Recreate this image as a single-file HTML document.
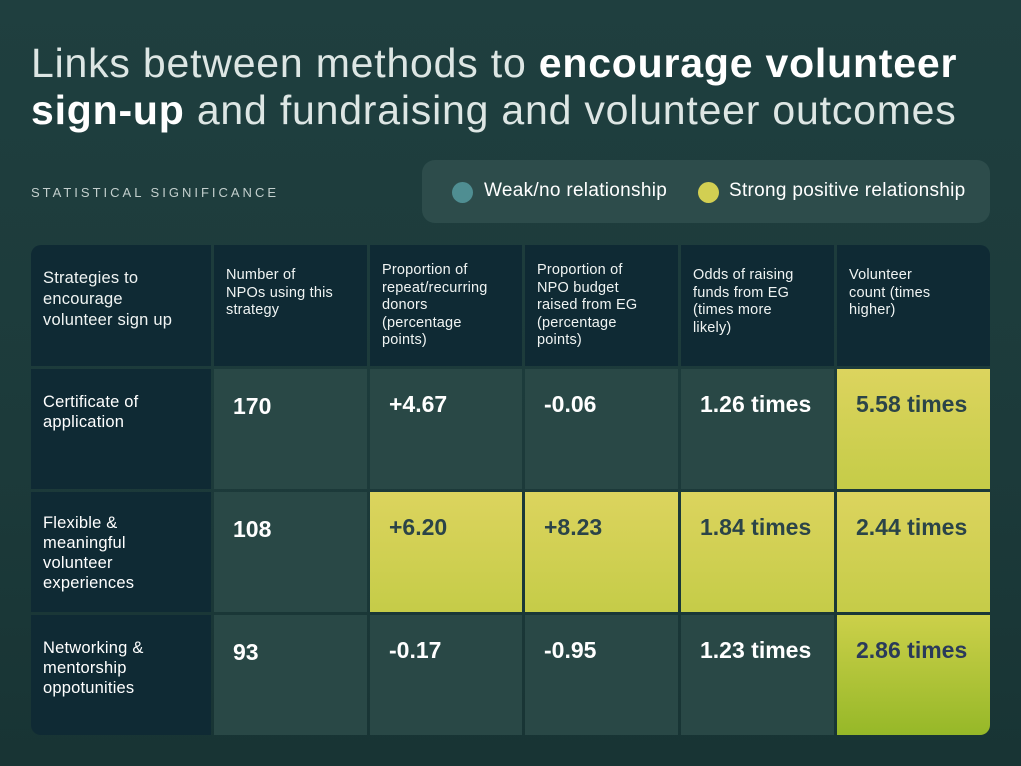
<!DOCTYPE html>
<html><head><style>
*{margin:0;padding:0;box-sizing:border-box}
body{width:1021px;height:766px;overflow:hidden;background:linear-gradient(180deg,#1f3f3f 0%,#1c3a3a 60%,#183434 100%);font-family:"Liberation Sans",sans-serif;color:#fff;position:relative}
.t{position:absolute;left:31px;font-size:41px;letter-spacing:0.8px;color:#dde6e4;font-weight:300;white-space:nowrap}
.t b{color:#fff;font-weight:700}
.ss{position:absolute;left:31px;top:185px;font-size:13px;letter-spacing:3px;color:#c3cfcd}
.leg{position:absolute;left:422px;top:160px;width:568px;height:63px;background:#2d4c4b;border-radius:13px}
.dot{position:absolute;top:22px;width:21px;height:21px;border-radius:50%}
.lt{position:absolute;top:20px;font-size:19px;letter-spacing:0.3px;color:#fff;white-space:nowrap}
.c{position:absolute;}
.h{background:#0f2a34;font-size:14.5px;letter-spacing:0.2px;line-height:17.5px;padding:0 12px;color:#f0f4f3}
.f{background:#0f2a34;font-size:16.5px;letter-spacing:0.2px;line-height:20px;padding:0 12px}
.d{background:#294846;font-size:23px;font-weight:700;padding-left:19px}
.y{background:linear-gradient(180deg,#dcd45e 0%,#c5cc48 100%);color:#2b4448;font-size:23px;font-weight:700;padding-left:19px}
.y2{background:linear-gradient(180deg,#ccd04a 0%,#96b828 100%);color:#2a3a5a;font-size:23px;font-weight:700;padding-left:19px}
</style></head><body>
<div class="t" style="top:40px">Links between methods to <b>encourage volunteer</b></div>
<div class="t" style="top:87px"><b>sign-up</b> and fundraising and volunteer outcomes</div>
<div class="ss">STATISTICAL SIGNIFICANCE</div>
<div class="leg">
<div class="dot" style="left:30px;background:#4f8e92"></div><div class="lt" style="left:62px">Weak/no relationship</div>
<div class="dot" style="left:276px;background:#d2cf52"></div><div class="lt" style="left:307px">Strong positive relationship</div>
</div>
<div class="c h" style="left:31px;top:245px;width:180px;height:121px;padding-top:23px;font-size:16.5px;line-height:21px;border-top-left-radius:10px">Strategies to<br>encourage<br>volunteer sign up</div>
<div class="c h" style="left:214px;top:245px;width:153px;height:121px;padding-top:22px">Number of<br>NPOs using this<br>strategy</div>
<div class="c h" style="left:370px;top:245px;width:152px;height:121px;padding-top:17px">Proportion of<br>repeat/recurring<br>donors<br>(percentage<br>points)</div>
<div class="c h" style="left:525px;top:245px;width:153px;height:121px;padding-top:17px">Proportion of<br>NPO budget<br>raised from EG<br>(percentage<br>points)</div>
<div class="c h" style="left:681px;top:245px;width:153px;height:121px;padding-top:22px">Odds of raising<br>funds from EG<br>(times more<br>likely)</div>
<div class="c h" style="left:837px;top:245px;width:153px;height:121px;padding-top:22px;border-top-right-radius:10px">Volunteer<br>count (times<br>higher)</div>
<div class="c f" style="left:31px;top:369px;width:180px;height:120px;padding-top:23px">Certificate of<br>application</div>
<div class="c d" style="left:214px;top:369px;width:153px;height:120px;padding-top:24px">170</div>
<div class="c d" style="left:370px;top:369px;width:152px;height:120px;padding-top:22px">+4.67</div>
<div class="c d" style="left:525px;top:369px;width:153px;height:120px;padding-top:22px">-0.06</div>
<div class="c d" style="left:681px;top:369px;width:153px;height:120px;padding-top:22px">1.26 times</div>
<div class="c y" style="left:837px;top:369px;width:153px;height:120px;padding-top:22px">5.58 times</div>
<div class="c f" style="left:31px;top:492px;width:180px;height:120px;padding-top:21px">Flexible &amp;<br>meaningful<br>volunteer<br>experiences</div>
<div class="c d" style="left:214px;top:492px;width:153px;height:120px;padding-top:24px">108</div>
<div class="c y" style="left:370px;top:492px;width:152px;height:120px;padding-top:22px">+6.20</div>
<div class="c y" style="left:525px;top:492px;width:153px;height:120px;padding-top:22px">+8.23</div>
<div class="c y" style="left:681px;top:492px;width:153px;height:120px;padding-top:22px">1.84 times</div>
<div class="c y" style="left:837px;top:492px;width:153px;height:120px;padding-top:22px">2.44 times</div>
<div class="c f" style="left:31px;top:615px;width:180px;height:120px;padding-top:23px;border-bottom-left-radius:10px">Networking &amp;<br>mentorship<br>oppotunities</div>
<div class="c d" style="left:214px;top:615px;width:153px;height:120px;padding-top:24px">93</div>
<div class="c d" style="left:370px;top:615px;width:152px;height:120px;padding-top:22px">-0.17</div>
<div class="c d" style="left:525px;top:615px;width:153px;height:120px;padding-top:22px">-0.95</div>
<div class="c d" style="left:681px;top:615px;width:153px;height:120px;padding-top:22px">1.23 times</div>
<div class="c y2" style="left:837px;top:615px;width:153px;height:120px;padding-top:22px;border-bottom-right-radius:10px">2.86 times</div>
</body></html>
